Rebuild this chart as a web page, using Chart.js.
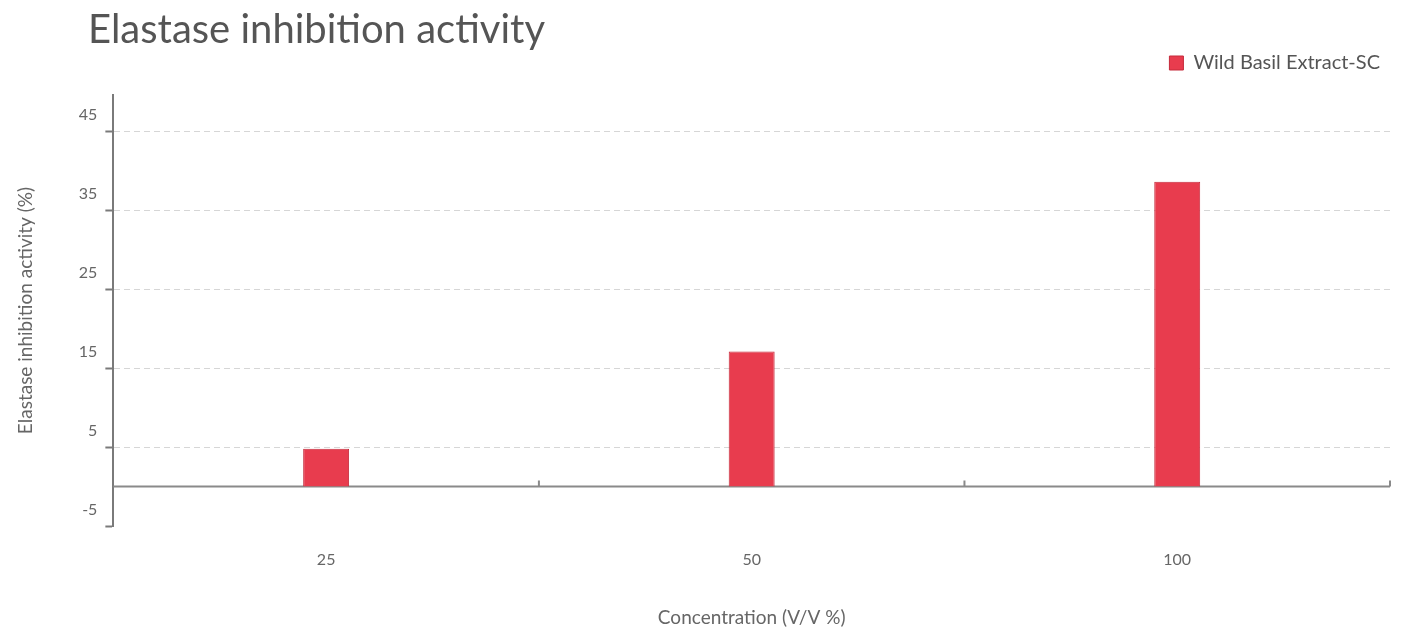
<!DOCTYPE html>
<html>
<head>
<meta charset="utf-8">
<script src="https://cdn.jsdelivr.net/npm/chart.js@4"></script>
<style>
  html, body { margin: 0; padding: 0; background: #fff; }
  #wrap { position: relative; width: 1401px; height: 633px; }
  #title { position: absolute; left: 88px; top: 4px; font-family: Lato, sans-serif; font-size: 40px; color: #555; white-space: nowrap; }
</style>
</head>
<body>
<div id="wrap">
  <div id="title">Elastase inhibition activity</div>
  <canvas id="chart" width="1401" height="633"></canvas>
</div>
<script>
var categories = ['25', '50', '100'];
var seriesName = 'Wild Basil Extract-SC';
var seriesValues = [4.8, 17.1, 38.6];
var yTicks = [-5, 5, 15, 25, 35, 45];

var font = 'Lato, sans-serif';

// zero line + small boundary ticks, positioned through the scales
var zeroLine = {
    id: 'zeroLine',
    beforeDatasetsDraw(chart) {
        let { ctx, chartArea, scales: { x, y } } = chart;
        let y0 = y.getPixelForValue(0);
        ctx.save();
        ctx.strokeStyle = '#8a8a8a';
        ctx.lineWidth = 2;
        ctx.beginPath();
        ctx.moveTo(chartArea.left, y0);
        ctx.lineTo(chartArea.right, y0);
        for (let i = 1; i <= categories.length; i++) {
            let xp = x.getPixelForValue(i - 0.5);
            ctx.moveTo(xp, y0);
            ctx.lineTo(xp, y0 - 6);
        }
        ctx.stroke();
        ctx.restore();
    }
};

// a bit more room under the legend
var legendGap = {
    id: 'legendGap',
    beforeInit(chart) {
        let fit = chart.legend.fit;
        chart.legend.fit = function () {
            fit.bind(chart.legend)();
            this.height += 12;
        };
    }
};

new Chart(document.getElementById('chart').getContext('2d'), {
    type: 'bar',
    data: {
        labels: categories,
        datasets: [{
            label: seriesName,
            data: seriesValues,
            backgroundColor: '#e83c4e',
            borderColor: '#c52a3b',
            borderWidth: 1,
            categoryPercentage: 1,
            barPercentage: 0.108
        }]
    },
    options: {
        responsive: false,
        animation: false,
        layout: { padding: { left: 14, right: 11, top: 43, bottom: 4 } },
        plugins: {
            legend: {
                position: 'top',
                align: 'end',
                labels: {
                    boxWidth: 14,
                    boxHeight: 14,
                    color: '#555',
                    font: { family: font, size: 20 }
                }
            },
            tooltip: { enabled: false }
        },
        scales: {
            x: {
                border: { display: false },
                grid: { display: false },
                ticks: { color: '#666', padding: 16, font: { family: font, size: 16 } },
                title: {
                    display: true,
                    text: 'Concentration (V/V %)',
                    color: '#666',
                    padding: { top: 21, bottom: 0 },
                    font: { family: font, size: 19 }
                }
            },
            y: {
                min: -5,
                max: 49.6,
                afterBuildTicks: (scale) => { scale.ticks = yTicks.map(v => ({ value: v })); },
                border: { display: true, color: '#7a7a7a', width: 2, dash: [6, 4] },
                grid: {
                    color: (c) => c.tick && c.tick.value === -5 ? 'rgba(0,0,0,0)' : '#d6d6d6',
                    lineWidth: 1,
                    tickColor: '#7a7a7a',
                    tickLength: 8,
                    tickBorderDash: [],
                    tickWidth: 2
                },
                ticks: { color: '#666', padding: 8, labelOffset: -16, font: { family: font, size: 16 } },
                title: {
                    display: true,
                    text: 'Elastase inhibition activity (%)',
                    color: '#666',
                    padding: { top: 0, bottom: 34 },
                    font: { family: font, size: 19 }
                }
            }
        }
    },
    plugins: [zeroLine, legendGap]
});
</script>
</body>
</html>
